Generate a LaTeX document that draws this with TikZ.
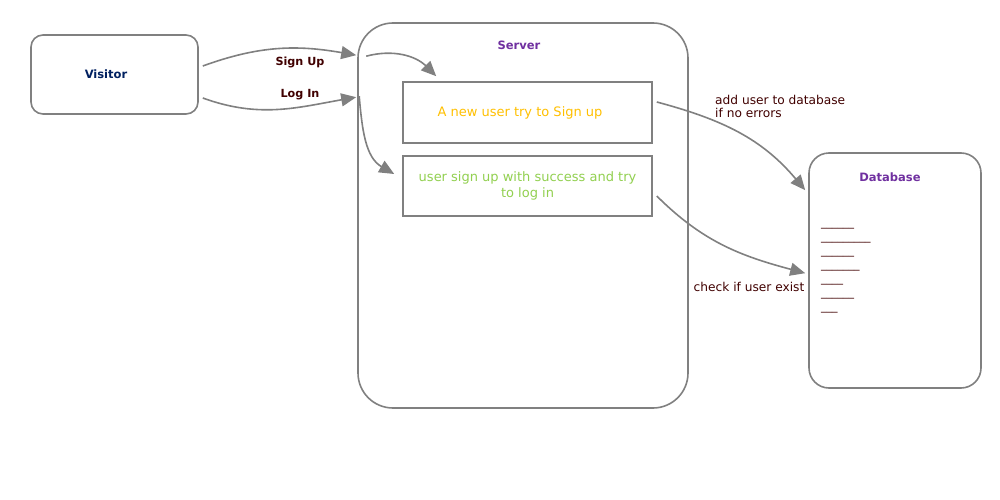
\documentclass[tikz,border=0pt]{standalone}
\usepackage{fontspec}
\setmainfont{DejaVu Sans}
\usepackage{xcolor}
\usepackage{tikz}
\usetikzlibrary{positioning}
\usetikzlibrary{shapes.geometric, arrows}
\usetikzlibrary{arrows.meta}
\definecolor{edgegray}{HTML}{808080}
\definecolor{labelred}{HTML}{400000}
\definecolor{navytext}{HTML}{002060}
\definecolor{purpletext}{HTML}{7030A0}
\definecolor{orangetext}{HTML}{FFC000}
\definecolor{greentext}{HTML}{92D050}
\tikzstyle{actor} = [rectangle, rounded corners=12pt, draw=edgegray, line width=1.6pt, fill=white]
\tikzstyle{process} = [rectangle, draw=edgegray, line width=1.6pt, align=center, inner sep=0pt]
\tikzstyle{title} = [font=\bfseries\fontsize{11.5}{14}\selectfont]
\tikzstyle{edgelabel} = [text=labelred, font=\fontsize{12.2}{13}\selectfont, inner sep=0pt]
\tikzstyle{arrow} = [draw=edgegray, line width=1.6pt, -{Triangle[length=15pt, width=13pt]}]

\begin{document}
\begin{tikzpicture}[x=1pt, y=1pt]
    \useasboundingbox (0,0) rectangle (1000,-500);
    % Nodes
    \node (visitor) [actor, minimum width=167pt, minimum height=79pt] at (114.5,-74.5) {};
    \node (visitor_lbl) [title, text=navytext] at (106,-74) {Visitor};
    \node (server) [actor, rounded corners=35pt, minimum width=330pt, minimum height=385pt] at (523,-215.5) {};
    \node (server_lbl) [title, text=purpletext] at (519,-45) {Server};
    \node (signup) [process, minimum width=249pt, minimum height=61pt, text=orangetext, font=\fontsize{13}{16}\selectfont] at (527.5,-112.5) {\hspace*{-15pt}A new user try to Sign up};
    \node (login) [process, minimum width=249pt, minimum height=60pt, text=greentext, font=\fontsize{13}{16}\selectfont] at (527.5,-186) {user sign up with success and try\\to log in};
    \node (db) [actor, rounded corners=20pt, minimum width=172pt, minimum height=235pt] at (895,-270.5) {};
    \node (db_lbl) [title, text=purpletext] at (890,-177) {Database};
    \node (records) [text=labelred, font=\fontsize{11}{14}\selectfont, align=left, anchor=north west, inner sep=0pt] at (821,-226) {\_\_\_\_\_\_\\\_\_\_\_\_\_\_\_\_\\\_\_\_\_\_\_\\\_\_\_\_\_\_\_\\\_\_\_\_\\\_\_\_\_\_\_\\\_\_\_};
    % Labels
    \node (signup_lbl) [edgelabel, font=\bfseries\fontsize{11.2}{13}\selectfont] at (300,-62) {Sign Up};
    \node (login_lbl) [edgelabel, font=\bfseries\fontsize{11.2}{13}\selectfont] at (300,-95) {Log In};
    \node (add_lbl) [edgelabel, align=left, anchor=west] at (715,-106.5) {add user to database\\if no errors};
    \node (check_lbl) [edgelabel] at (749,-287) {check if user exist};
    % Arrows
    \draw [arrow] ([shift={(4,8.5)}]visitor.east) to[out=20, in=170] ([shift={(-1,-33)}]server.north west);
    \draw [arrow] ([shift={(4,-23.5)}]visitor.east) to[out=-20, in=190] ([shift={(-1,-75)}]server.north west);
    \draw [arrow] ([shift={(9,-34)}]server.north west) to[out=15, in=135] ([shift={(34,5)}]signup.north west);
    \draw [arrow] ([shift={(2,-74)}]server.north west) to[out=-85, in=150] ([shift={(-8,12)}]login.west);
    \draw [arrow] ([shift={(4,10.5)}]signup.east) to[out=-15, in=130] ([shift={(-3,-38)}]db.north west);
    \draw [arrow] ([shift={(4,-10)}]login.east) to[out=-45, in=165] ([shift={(-3,-121)}]db.north west);
\end{tikzpicture}
\end{document}
